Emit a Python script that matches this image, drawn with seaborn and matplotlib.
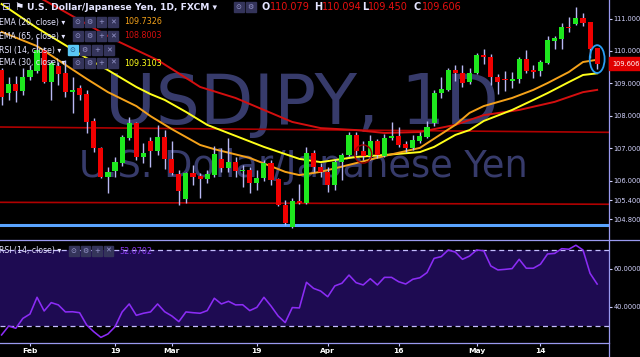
import numpy as np
import pandas as pd
import matplotlib
matplotlib.use("Agg")
import matplotlib.pyplot as plt
from matplotlib.patches import Rectangle, Ellipse
from matplotlib.lines import Line2D
import seaborn as sns

# ---------------- data ----------------
opens = [109.41,108.70,108.98,108.77,109.20,109.39,110.03,109.04,109.54,109.32,
         108.74,108.86,108.67,107.84,107.01,106.11,106.30,106.54,107.31,107.78,
         106.73,107.22,106.91,107.35,106.67,106.20,105.43,106.23,106.14,106.05,
         106.17,106.67,106.39,106.57,106.30,106.33,105.93,106.08,106.54,106.05,
         105.25,104.57,105.37,105.31,106.85,106.42,106.27,105.86,106.57,106.79,
         107.41,106.91,106.76,107.22,106.76,107.31,107.38,107.13,107.01,107.22,
         107.35,107.78,108.70,108.80,109.41,109.32,109.04,109.32,109.88,109.82,
         109.20,109.12,109.07,109.14,109.75,109.41,109.38,109.63,110.31,110.37,
         110.74,110.83,111.02,110.89,110.079]
highs = [109.48,109.20,109.23,109.48,109.57,110.43,110.12,109.72,109.66,109.72,
         109.20,108.95,108.80,107.93,107.04,106.42,106.73,107.41,107.96,107.80,
         107.16,107.35,107.72,107.56,107.22,106.33,106.27,106.48,106.23,106.33,
         107.07,107.01,107.31,106.73,106.48,106.42,106.33,106.64,106.64,106.08,
         105.40,105.46,105.90,107.04,106.94,106.54,106.42,106.67,106.85,107.50,
         107.50,107.22,107.41,107.28,107.44,107.81,107.65,107.22,107.41,107.50,
         107.84,108.80,109.20,109.48,109.57,109.57,109.48,109.94,110.06,109.91,
         109.29,109.38,109.35,109.82,110.03,109.57,109.72,110.46,110.46,110.86,
         111.05,111.36,111.17,110.90,110.094]
lows = [108.33,108.49,108.43,108.64,109.11,109.32,109.01,108.49,108.95,108.58,
        108.09,108.49,107.47,106.88,106.08,105.62,106.11,106.45,107.25,106.64,
        106.54,106.42,106.79,106.36,106.17,105.25,105.31,105.86,105.46,105.93,
        106.11,106.27,106.27,106.11,105.80,105.62,105.71,105.99,105.86,105.22,
        104.63,104.55,105.28,105.28,106.27,106.11,105.65,105.71,106.02,106.76,
        106.79,106.64,106.64,106.70,106.73,107.25,107.04,106.88,106.94,107.16,
        107.31,107.69,108.55,108.77,109.07,108.89,108.98,109.29,109.60,108.95,
        108.67,108.77,108.86,109.01,109.32,109.17,109.23,109.60,110.06,110.06,
        110.59,110.80,110.77,109.78,109.450]
closes = [108.58,108.98,108.77,109.20,109.41,110.03,109.04,109.63,109.29,108.74,
          108.80,108.64,107.81,107.01,106.11,106.27,106.57,107.35,107.78,106.73,
          106.85,106.91,107.35,106.67,106.23,105.68,106.23,106.11,106.05,106.20,
          106.82,106.39,106.57,106.30,106.32,105.93,106.08,106.54,106.02,105.25,
          104.69,105.37,105.31,106.85,106.42,106.27,105.86,106.57,106.79,107.41,
          106.91,106.76,107.22,106.79,107.31,107.38,107.10,107.01,107.25,107.38,
          107.65,108.70,108.83,109.41,109.32,109.01,109.32,109.88,109.82,109.20,
          109.04,109.09,109.13,109.75,109.38,109.35,109.66,110.34,110.40,110.74,
          110.71,111.02,110.86,110.06,109.606]

ema20_idx = [0,5,12,15,19,21,24,28,30,35,40,42,45,50,54,59,64,66,68,72,75,77,80,82,84]
ema20 = [110.59,110.15,109.14,108.73,108.30,107.99,107.59,107.10,106.97,106.70,106.27,106.17,
         106.27,106.54,106.76,107.01,107.72,108.09,108.30,108.55,108.80,109.01,109.35,109.66,109.73]
ema30_idx = [0,5,12,15,19,21,23,26,29,33,37,42,45,50,54,59,61,64,66,68,72,75,77,80,82,84]
ema30 = [111.45,110.71,109.78,109.41,108.89,108.67,108.49,108.12,107.72,107.38,107.04,106.67,
         106.57,106.73,106.79,106.88,107.04,107.41,107.56,107.84,108.18,108.49,108.70,109.04,
         109.26,109.31]
ema65_idx = [0,6,16,22,26,28,33,37,41,45,50,54,59,64,68,73,78,82,84]
ema65 = [112.20,111.57,110.34,109.72,109.17,108.89,108.55,108.18,107.81,107.62,107.56,107.47,
         107.50,107.72,108.02,108.18,108.43,108.73,108.80]

rsi = [25.3,30.0,28.8,34.0,36.3,45.1,37.9,42.3,41.1,37.4,
       37.5,37.0,30.5,27.0,24.0,25.8,29.6,37.4,41.6,35.6,
       36.7,37.4,41.6,37.5,35.3,32.3,37.4,37.0,36.7,38.1,
       44.6,41.6,43.0,41.1,41.2,38.1,39.8,45.1,40.5,35.3,
       31.8,39.7,39.5,53.0,49.8,48.4,45.4,51.1,52.5,56.8,
       52.8,51.6,54.9,51.6,55.6,55.6,53.3,52.1,54.6,55.4,
       58.1,65.6,66.5,70.0,68.9,65.1,66.8,70.0,69.6,61.6,
       59.5,59.8,60.2,65.1,60.4,60.4,62.5,67.9,68.2,70.7,
       70.4,72.5,70.0,57.7,52.07]

trend_upper = [107.654, 107.49]
trend_lower = [105.33, 105.27]
support_blue = 104.64

price_ticks = [104.8, 105.4, 106.0, 107.0, 108.0, 109.0, 110.0, 111.0]
rsi_ticks = [40, 60]
date_pos = [4, 16, 24, 36, 46, 56, 67, 76]
date_labels = ["Feb", "19", "Mar", "19", "Apr", "16", "May", "14"]

# ---------------- figure ----------------
W, H = 640, 357
fig = plt.figure(figsize=(6.4, 3.57), dpi=100, facecolor="black")
plt.rcParams["font.family"] = ["DejaVu Sans"]

def fx(x):
    return x / W

def fy(y):
    return 1 - y / H

XL = (-0.226, 85.67)
ax = fig.add_axes([0, fy(239), fx(609), 239 / H])
ax2 = fig.add_axes([0, fy(343), fx(609), (343 - 240) / H])
for a in (ax, ax2):
    a.set_facecolor("black")
    for s in a.spines.values():
        s.set_visible(False)
    a.set_xlim(*XL)

ax.set_ylim(111.574 - 239 / 32.4, 111.574)
ax2.set_ylim(21.05, 75.26)

n = len(closes)
idx = np.arange(n)
df = pd.DataFrame({"i": idx, "open": opens, "high": highs, "low": lows, "close": closes})
up = df["close"] >= df["open"]

# watermark (behind everything)
wm = "#373b6b"
ax.text(fx(302), fy(124), "USDJPY, 1D", transform=fig.transFigure, ha="center",
        va="baseline", fontsize=50, color=wm, zorder=0.5, clip_on=False)
ax.text(fx(303), fy(177), "U.S. Dollar/Japanese Yen", transform=fig.transFigure,
        ha="center", va="baseline", fontsize=26.5, color=wm, zorder=0.5,
        clip_on=False)

# trend lines
ax.plot([XL[0], XL[1]], trend_upper, color="#b00000", lw=1.2, zorder=1)
ax.plot([XL[0], XL[1]], trend_lower, color="#b00000", lw=1.2, zorder=1)
ax.axhline(support_blue, color="#5aa4ff", lw=2.2, zorder=1)

# EMAs
sns.lineplot(x=ema65_idx, y=ema65, ax=ax, color="#d40f0f", lw=1.4, zorder=2)
sns.lineplot(x=ema30_idx, y=ema30, ax=ax, color="#ffff1a", lw=1.4, zorder=2)
sns.lineplot(x=ema20_idx, y=ema20, ax=ax, color="#f5a21a", lw=1.4, zorder=2)

# candles
ax.vlines(df["i"], df["low"], df["high"], color="#b8b8f4", lw=1.0, zorder=3)
body_lo = np.minimum(df["open"], df["close"])
body_h = np.maximum(np.abs(df["close"] - df["open"]), 0.035)
colors = np.where(up, "#1ee81e", "#f00000")
ax.bar(df["i"], body_h, bottom=body_lo, width=0.72, color=colors, zorder=4, linewidth=0)

# annotations
ax.add_patch(Ellipse((51, 106.82), 2.4, 0.56, fill=False, ec="#a00000", lw=1.0, zorder=5))
ax.add_patch(Ellipse((84, 109.75), 2.1, 0.86, fill=False, ec="#2a9df4", lw=1.3, zorder=5))

ax.set_xlabel("")
ax.set_ylabel("")
ax.set_xticks([])
ax.yaxis.tick_right()
ax.set_yticks(price_ticks)
ax.set_yticklabels([f"{v:.3f}" for v in price_ticks])
ax.tick_params(axis="y", colors="#d4d4ff", labelsize=4.8, length=2.5, width=0.8, pad=0.8)

# RSI panel
ax2.axhspan(30, 70, color="#1e0b52", zorder=0, lw=0)
ax2.axhline(70, color="#c4bcff", lw=0.9, ls=(0, (4, 3)), zorder=1)
ax2.axhline(30, color="#c4bcff", lw=0.9, ls=(0, (4, 3)), zorder=1)
sns.lineplot(x=idx, y=rsi, ax=ax2, color="#8b2cf5", lw=1.15, zorder=2)
ax2.set_xlabel("")
ax2.set_ylabel("")
ax2.yaxis.tick_right()
ax2.set_yticks(rsi_ticks)
ax2.set_yticklabels([f"{v:.4f}" for v in rsi_ticks])
ax2.tick_params(axis="y", colors="#d4d4ff", labelsize=4.8, length=2.5, width=0.8, pad=0.8)
ax2.set_xticks(date_pos)
ax2.set_xticklabels(date_labels)
ax2.tick_params(axis="x", colors="#c8c8ff", labelcolor="white", labelsize=5.4,
                length=2, width=0.8, pad=1.5)
for t in ax2.get_xticklabels():
    t.set_fontweight("bold")

# frame lines
lav = "#9a9af0"
fig.add_artist(Line2D([fx(609), fx(609)], [0, 1], transform=fig.transFigure, color=lav, lw=0.9))
fig.add_artist(Line2D([0, 1], [fy(239.5), fy(239.5)], transform=fig.transFigure, color=lav, lw=0.9))
fig.add_artist(Line2D([0, fx(609)], [fy(343), fy(343)], transform=fig.transFigure, color=lav, lw=0.9))

# price tag
fig.add_artist(Rectangle((fx(609), fy(70)), fx(31), 13 / H, transform=fig.transFigure,
                         color="#e00000", zorder=5))
fig.text(fx(612), fy(63.5), "109.606", color="white", fontsize=4.8,
         va="center", zorder=6)

# header
def box(x, y, glyph, face="#34345a", gcol="#9a9ad0", w=9.5):
    fig.add_artist(Rectangle((fx(x), fy(y + 4.75)), fx(w), 9.5 / H, transform=fig.transFigure,
                             color=face, zorder=6))
    fig.text(fx(x + w / 2), fy(y), glyph, color=gcol, fontsize=5, ha="center",
             va="center", zorder=7)

txtc = "#e4e4ff"
fig.text(fx(1), fy(7), "⊟", color="#c8c8ff", fontsize=7.5, va="center")
fig.text(fx(14), fy(7), "⚑", color="#e8e8ff", fontsize=7.5, va="center")
fig.text(fx(27), fy(7), "U.S. Dollar/Japanese Yen, 1D, FXCM ▾", color=txtc,
         fontsize=6.6, fontweight="bold", va="center")
box(234, 7, "⊙")
box(246, 7, "⚙")
for lab, x_l, val, x_v in [("O", 262, "110.079", 270), ("H", 314, "110.094", 322),
                           ("L", 362, "109.450", 368), ("C", 414, "109.606", 422)]:
    fig.text(fx(x_l), fy(7), lab, color=txtc, fontsize=7.0, fontweight="bold", va="center")
    fig.text(fx(x_v), fy(7), val, color="#e81010", fontsize=7.0, va="center")

rows = [(22, "EMA (20, close) ▾", "109.7326", "#f5a21a"),
        (36, "EMA (65, close) ▾", "108.8003", "#d40f0f"),
        (63, "EMA (30, close) ▾", "109.3103", "#ffff1a")]
for y, lab, val, col in rows:
    fig.text(fx(-1), fy(y), lab, color=txtc, fontsize=5.6, va="center")
    box(73, y, "⊙")
    box(85, y, "⚙")
    box(96.5, y, "+")
    box(108, y, "✕")
    fig.text(fx(124), fy(y), val, color=col, fontsize=5.8, va="center")

fig.text(fx(-1), fy(50), "RSI (14, close) ▾", color=txtc, fontsize=5.6, va="center")
box(68, 50, "⊙", face="#5ac8f5", gcol="#1a4a80")
box(80, 50, "⚙")
box(92, 50, "+")
box(104, 50, "✕")

fig.text(fx(-1), fy(251), "RSI (14, close) ▾", color=txtc, fontsize=5.6, va="center")
box(69, 251, "⊙")
box(80.5, 251, "⚙")
box(92, 251, "+")
box(103.5, 251, "✕")
fig.text(fx(119), fy(251), "52.0702", color="#8b3cf0", fontsize=5.8, va="center")

fig.savefig("out.png", dpi=100, facecolor="black")
